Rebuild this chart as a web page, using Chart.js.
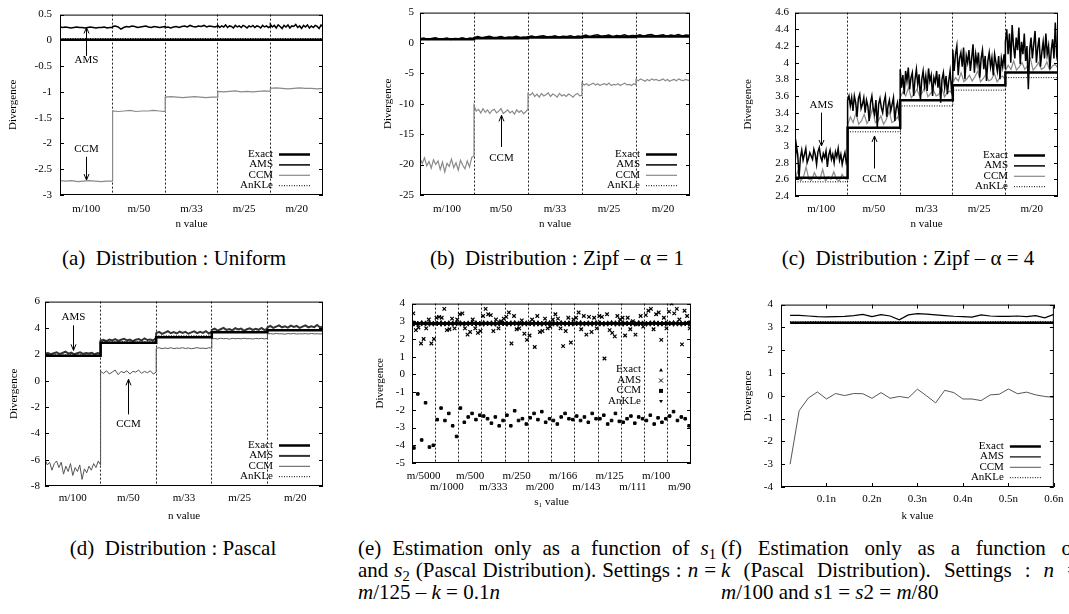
<!DOCTYPE html>
<html>
<head>
<meta charset="utf-8">
<script src="https://cdn.jsdelivr.net/npm/chart.js@4.4.1/dist/chart.umd.min.js"></script>
<style>
  html, body { margin: 0; padding: 0; background: #fff; width: 1069px; height: 614px; overflow: hidden; position: relative; }
  canvas { position: absolute; }
  .cap { position: absolute; font-family: 'Liberation Serif', 'Times New Roman', serif; font-size: 21px; line-height: 22px; color: #000; }
  .cap.c { text-align: center; white-space: nowrap; }
  .line { text-align: justify; text-align-last: justify; height: 22px; white-space: normal; }
  .line.last { text-align-last: left; }
  sub { font-size: 70%; line-height: 0; vertical-align: -0.3em; }
</style>
</head>
<body>

<div class="cap c" style="left:0px; top:247px; width:348px;">(a)&nbsp; Distribution : Uniform</div>
<div class="cap c" style="left:400px; top:247px; width:314px;">(b)&nbsp; Distribution : Zipf – α = 1</div>
<div class="cap c" style="left:760px; top:247px; width:296px;">(c)&nbsp; Distribution : Zipf – α = 4</div>
<div class="cap c" style="left:0px; top:537px; width:346px;">(d)&nbsp; Distribution : Pascal</div>
<div class="cap" style="left:358px; top:537px; width:358px;">
  <div class="line">(e) Estimation only as a function of <i>s</i><sub>1</sub></div>
  <div class="line">and <i>s</i><sub>2</sub> (Pascal Distribution). Settings : <i>n</i> =</div>
  <div class="line last"><i>m</i>/125 – <i>k</i> = 0.1<i>n</i></div>
</div>
<div class="cap" style="left:721px; top:537px; width:358px;">
  <div class="line">(f) Estimation only as a function of</div>
  <div class="line"><i>k</i> (Pascal Distribution). Settings : <i>n</i> =</div>
  <div class="line last"><i>m</i>/100 and <i>s</i>1 = <i>s</i>2 = <i>m</i>/80</div>
</div>

<script>
// ---------- data ----------
const seriesNames = ['Exact', 'AMS', 'CCM', 'AnKLe'];
const nLabels = ['m/100', 'm/50', 'm/33', 'm/25', 'm/20'];
const s1Labels = ['m/5000', 'm/1000', 'm/500', 'm/333', 'm/250', 'm/200', 'm/166', 'm/143', 'm/125', 'm/111', 'm/100', 'm/90'];
const kTicks = [0.1, 0.2, 0.3, 0.4, 0.5, 0.6];

// (a) uniform, one list per n segment
const uniExact = [[0.01, 0.01], [0.01, 0.01], [0.01, 0.01], [0.01, 0.01], [0.01, 0.01]];
const uniAms = [
  [0.26, 0.25, 0.26, 0.25, 0.24, 0.25, 0.26, 0.25, 0.25, 0.24, 0.25, 0.26, 0.25, 0.24, 0.25, 0.25, 0.26, 0.24, 0.25, 0.25],
  [0.27, 0.28, 0.26, 0.22, 0.25, 0.27, 0.26, 0.28, 0.27, 0.25, 0.26, 0.27, 0.28, 0.26, 0.25, 0.27, 0.26, 0.25, 0.26, 0.27],
  [0.25, 0.26, 0.24, 0.26, 0.27, 0.25, 0.27, 0.28, 0.26, 0.29, 0.27, 0.26, 0.28, 0.27, 0.29, 0.26, 0.28, 0.27, 0.26, 0.28],
  [0.29, 0.25, 0.28, 0.26, 0.30, 0.25, 0.28, 0.27, 0.24, 0.29, 0.26, 0.28, 0.25, 0.29, 0.27, 0.24, 0.28, 0.26, 0.29, 0.25, 0.28, 0.27, 0.24, 0.29, 0.26, 0.28, 0.25, 0.27],
  [0.31, 0.26, 0.29, 0.24, 0.30, 0.27, 0.23, 0.29, 0.26, 0.30, 0.24, 0.28, 0.27, 0.31, 0.25, 0.28, 0.23, 0.29, 0.26, 0.30, 0.24, 0.28, 0.25, 0.29, 0.27, 0.23, 0.30, 0.26]
];
const uniCcm = [
  [-2.72, -2.73, -2.72, -2.74, -2.73, -2.72, -2.73, -2.74, -2.73, -2.73],
  [-1.37, -1.38, -1.37, -1.36, -1.38, -1.37, -1.37, -1.36, -1.37, -1.38],
  [-1.10, -1.09, -1.10, -1.11, -1.10, -1.09, -1.10, -1.11, -1.10, -1.10],
  [-0.99, -1.00, -0.99, -0.98, -1.00, -0.99, -1.00, -0.99, -0.98, -0.99],
  [-0.93, -0.92, -0.93, -0.94, -0.93, -0.92, -0.93, -0.93, -0.94, -0.93]
];
const uniAnkle = [[0.035, 0.035], [0.035, 0.035], [0.035, 0.035], [0.035, 0.035], [0.035, 0.035]];

// (b) zipf alpha = 1
const zipf1Exact = [[0.6, 0.6], [0.8, 0.8], [0.9, 0.9], [1.0, 1.0], [1.05, 1.05]];
const zipf1Ams = [
  [0.7, 0.8, 0.6, 0.75, 0.85, 0.65, 0.7, 0.8, 0.6, 0.75, 0.7, 0.85, 0.65, 0.8, 0.7],
  [0.9, 1.05, 0.85, 1.0, 1.1, 0.9, 0.95, 1.05, 0.85, 1.0, 0.95, 1.1, 0.9, 1.0, 0.95],
  [1.0, 1.15, 0.95, 1.1, 1.2, 1.0, 1.05, 1.2, 0.95, 1.1, 1.05, 1.2, 1.0, 1.15, 1.05],
  [1.1, 1.3, 1.05, 1.25, 1.35, 1.1, 1.2, 1.3, 1.05, 1.25, 1.15, 1.35, 1.1, 1.25, 1.2],
  [1.15, 1.35, 1.1, 1.3, 1.4, 1.15, 1.25, 1.35, 1.1, 1.3, 1.2, 1.4, 1.15, 1.3, 1.25]
];
const zipf1Ccm = [
  [-19.0, -19.8, -18.9, -20.2, -19.5, -20.6, -19.2, -20.0, -19.4, -20.8, -19.6, -21.2, -19.8, -20.3, -19.1, -20.5, -19.7, -20.9, -19.3, -20.1, -20.7, -19.4, -20.4, -18.8, -18.6],
  [-10.3, -11.2, -10.9, -11.5, -10.8, -11.4, -11.0, -11.6, -11.1, -10.9, -11.5, -11.2, -10.8, -11.6, -11.3, -11.0, -11.5, -11.2, -11.7, -11.0, -11.4, -11.1, -11.6, -11.3, -10.9],
  [-8.3, -8.6, -8.2, -8.8, -8.4, -8.9, -8.3, -8.7, -8.5, -8.2, -8.8, -8.4, -8.6, -8.9, -8.3, -8.7, -8.5, -8.8, -8.4, -8.6, -8.9, -8.5, -8.3, -8.7, -8.6],
  [-6.6, -6.9, -6.7, -7.0, -6.8, -6.6, -6.9, -6.7, -7.0, -6.8, -6.7, -6.9, -6.6, -7.0, -6.8, -6.9, -6.7, -7.0, -6.8, -6.6, -6.9, -6.8, -7.0, -6.7, -6.9],
  [-6.0, -6.2, -5.9, -6.1, -6.3, -6.0, -6.2, -5.9, -6.1, -6.0, -6.2, -6.1, -5.9, -6.2, -6.0, -6.3, -6.1, -6.0, -6.2, -5.9, -6.1, -6.2, -6.0, -6.1, -6.2]
];
const zipf1Ankle = [[0.7, 0.7], [0.9, 0.9], [1.0, 1.0], [1.1, 1.1], [1.15, 1.15]];

// (c) zipf alpha = 4
const zipf4Exact = [[2.62, 2.62], [3.22, 3.22], [3.55, 3.55], [3.73, 3.73], [3.88, 3.88]];
const zipf4Ams = [
  [2.78, 3.01, 2.9, 2.62, 2.86, 2.95, 2.83, 2.9, 2.97, 2.8, 2.85, 2.92, 2.88, 2.84, 2.96, 2.9, 2.78, 2.93, 2.98, 2.87,
   2.82, 2.91, 2.86, 2.94, 2.75, 2.89, 2.95, 2.84, 2.9, 2.8, 2.93, 2.87, 2.97, 2.83, 2.9, 2.78, 2.86, 2.92, 2.8, 2.85],
  [3.55, 3.6, 3.48, 3.58, 3.42, 3.6, 3.52, 3.35, 3.57, 3.62, 3.45, 3.5, 3.58, 3.4, 3.55, 3.48, 3.3, 3.52, 3.6, 3.45,
   3.38, 3.55, 3.22, 3.5, 3.57, 3.46, 3.4, 3.53, 3.6, 3.35, 3.48, 3.55, 3.42, 3.5, 3.58, 3.3, 3.45, 3.52, 3.38, 3.48],
  [3.92, 3.7, 3.85, 3.62, 3.9, 3.78, 3.94, 3.68, 3.82, 3.88, 3.6, 3.8, 3.92, 3.74, 3.86, 3.55, 3.8, 3.9, 3.72, 3.84,
   3.66, 3.93, 3.78, 3.85, 3.6, 3.82, 3.76, 3.9, 3.7, 3.86, 3.52, 3.8, 3.88, 3.7, 3.84, 3.62, 3.78, 3.9, 3.68, 3.8],
  [4.15, 3.9, 4.1, 4.2, 3.85, 4.05, 4.12, 3.95, 4.18, 3.8, 4.08, 4.0, 4.15, 3.9, 4.05, 4.22, 3.88, 4.1, 3.98, 4.12,
   3.82, 4.05, 4.15, 3.92, 4.08, 3.78, 4.02, 4.12, 3.95, 4.06, 3.85, 4.1, 4.0, 3.9, 4.08, 3.8, 4.05, 3.95, 4.1, 3.92],
  [4.25, 4.4, 4.1, 4.35, 4.0, 4.45, 4.2, 4.05, 4.3, 4.15, 4.42, 3.98, 4.25, 4.1, 4.35, 4.02, 4.2, 3.68, 4.15, 4.3,
   4.05, 4.22, 4.38, 4.0, 4.18, 4.3, 3.95, 4.12, 4.25, 4.05, 4.35, 4.1, 4.2, 3.92, 4.15, 4.28, 4.05, 4.48, 4.1, 4.2]
];
const zipf4Ccm = [
  [2.6, 2.7, 2.58, 2.62, 2.75, 2.6, 2.59, 2.68, 2.61, 2.6, 2.72, 2.58, 2.63, 2.6, 2.69, 2.6, 2.58, 2.66, 2.61, 2.6],
  [3.25, 3.35, 3.28, 3.4, 3.26, 3.3, 3.38, 3.27, 3.33, 3.45, 3.28, 3.3, 3.36, 3.26, 3.32, 3.42, 3.28, 3.3, 3.35, 3.27],
  [3.58, 3.65, 3.6, 3.7, 3.58, 3.62, 3.68, 3.6, 3.64, 3.72, 3.59, 3.63, 3.67, 3.6, 3.62, 3.7, 3.59, 3.64, 3.66, 3.61],
  [3.76, 3.82, 3.78, 3.88, 3.77, 3.8, 3.85, 3.78, 3.83, 3.9, 3.77, 3.81, 3.86, 3.78, 3.8, 3.87, 3.77, 3.82, 3.84, 3.79],
  [3.9, 3.97, 3.92, 4.02, 3.91, 3.95, 4.0, 3.92, 3.96, 4.05, 3.91, 3.95, 4.0, 3.92, 3.94, 4.01, 3.91, 3.96, 3.98, 3.93]
];
const zipf4Ankle = [[2.57, 2.57], [3.17, 3.17], [3.48, 3.48], [3.67, 3.67], [3.82, 3.82]];

// (d) pascal
const pascalExact = [[1.88, 1.88], [2.87, 2.87], [3.3, 3.3], [3.67, 3.67], [3.82, 3.82]];
const pascalAms = [
  [2.05, 2.1, 2.0, 2.08, 2.15, 2.02, 2.1, 2.2, 2.05, 2.12, 2.0, 2.08, 2.15, 2.03, 2.1, 2.06, 2.12, 2.0, 2.09, 2.05],
  [3.05, 3.1, 3.0, 3.12, 3.05, 3.15, 3.02, 3.1, 3.18, 3.05, 3.12, 3.0, 3.1, 3.15, 3.05, 3.2, 3.08, 3.12, 3.05, 3.25],
  [3.6, 3.7, 3.55, 3.65, 3.75, 3.6, 3.68, 3.58, 3.72, 3.62, 3.7, 3.56, 3.66, 3.74, 3.6, 3.7, 3.62, 3.75, 3.58, 3.7],
  [3.85, 3.95, 3.8, 3.9, 4.0, 3.85, 3.92, 3.82, 3.98, 3.88, 3.95, 3.8, 3.9, 3.97, 3.85, 3.93, 3.86, 4.0, 3.84, 3.92],
  [4.05, 4.15, 4.0, 4.1, 4.2, 4.05, 4.12, 4.02, 4.18, 4.08, 4.15, 4.0, 4.1, 4.2, 4.05, 4.13, 4.06, 4.22, 4.04, 4.12]
];
const pascalCcm = [
  [-6.0, -6.4, -6.2, -6.8, -6.3, -6.1, -6.6, -6.2, -7.1, -6.5, -6.9, -6.3, -7.2, -6.6, -6.9, -6.4, -7.5, -6.7, -7.0, -6.5, -6.8, -6.3, -6.6, -6.1, -6.4],
  [0.7, 0.55, 0.75, 0.5, 0.65, 0.8, 0.45, 0.7, 0.6, 0.75, 0.5, 0.7, 0.65, 0.8, 0.55, 0.7, 0.6, 0.75, 0.5, 0.65],
  [2.45, 2.5, 2.42, 2.48, 2.44, 2.5, 2.43, 2.47, 2.45, 2.5, 2.44, 2.48, 2.42, 2.46, 2.5, 2.45, 2.47, 2.43, 2.5, 2.46],
  [3.18, 3.2, 3.16, 3.22, 3.18, 3.2, 3.15, 3.21, 3.18, 3.2, 3.17, 3.22, 3.18, 3.19, 3.16, 3.2, 3.18, 3.21, 3.17, 3.2],
  [3.55, 3.57, 3.54, 3.58, 3.55, 3.56, 3.53, 3.57, 3.55, 3.58, 3.54, 3.56, 3.55, 3.57, 3.54, 3.58, 3.55, 3.56, 3.54, 3.57]
];
const pascalAnkle = [[1.95, 1.95], [2.95, 2.95], [3.4, 3.4], [3.75, 3.75], [3.88, 3.88]];

// (e) as a function of s1: runs spread over the 12 s1 segments
const s1Exact = [
  2.90, 2.88, 2.91, 2.89, 2.90, 2.88, 2.89, 2.91, 2.88, 2.90, 2.89, 2.91,
  2.90, 2.88, 2.89, 2.91, 2.90, 2.88, 2.91, 2.89, 2.90, 2.88, 2.91, 2.89,
  2.88, 2.90, 2.91, 2.89, 2.88, 2.90, 2.89, 2.91, 2.90, 2.88, 2.89, 2.91,
  2.90, 2.88, 2.91, 2.89, 2.90, 2.88, 2.89, 2.91, 2.88, 2.90, 2.89, 2.91,
  2.90, 2.88, 2.89, 2.91, 2.90, 2.88, 2.91, 2.89, 2.90, 2.88, 2.91, 2.89,
  2.88, 2.90, 2.91, 2.89, 2.88, 2.90, 2.89, 2.91, 2.90, 2.88, 2.89, 2.91
];
const s1Ams = [
  3.45, 2.5, 2.65, 1.75, 2.0, 2.6, 3.1, 1.75, 2.0,
  3.2, 3.25, 3.2, 3.7, 2.5, 2.55, 3.15, 2.6, 3.1,
  3.4, 3.45, 2.6, 2.25, 2.4, 3.1, 2.6, 2.35, 2.45,
  3.3, 3.7, 3.4, 3.35, 2.45, 3.1, 2.6, 3.0, 3.15,
  3.25, 3.5, 1.75, 3.3, 2.55, 2.6, 3.05, 2.3, 1.95,
  2.2, 3.1, 1.55, 3.3, 2.4, 2.45, 3.15, 2.6, 2.7,
  3.1, 3.4, 3.15, 2.6, 1.6, 2.45, 3.2, 1.8, 3.1,
  3.2, 3.5, 2.55, 3.3, 2.25, 3.25, 2.4, 3.2, 2.6,
  3.3, 3.25, 0.9, 3.4, 2.5, 2.35, 2.15, 3.3, 3.1,
  3.2, 2.2, 3.2, 2.55, 3.0, 2.25, 2.85, 3.3, 2.7,
  3.35, 3.6, 3.7, 2.55, 3.4, 3.5, 1.95, 3.2, 2.6,
  3.55, 4.0, 3.45, 3.7, 3.1, 1.7, 3.6, 3.3, 2.6
];
const s1Ccm = [
  -4.15, -1.1, -3.7, -1.6, -4.1, -4.0, -2.55, -1.9, -2.6, -2.2, -2.9, -3.5,
  -1.9, -2.7, -2.4, -2.2, -2.55, -2.3, -2.35, -2.5, -2.75, -2.4, -2.9, -2.6,
  -2.3, -2.9, -2.05, -2.6, -2.5, -2.8, -2.45, -2.2, -2.55, -2.1, -2.7, -2.5,
  -2.6, -2.8, -2.4, -2.2, -2.5, -2.55, -2.35, -2.6, -2.4, -2.7, -2.2, -2.5,
  -2.5, -2.3, -2.8, -2.6, -2.2, -2.65, -2.7, -2.5, -2.35, -2.75, -2.4, -2.5,
  -2.6, -2.3, -2.8, -2.45, -2.7, -2.5, -2.35, -2.1, -2.6, -2.4, -2.5, -2.9
];
const s1Ankle = [
  2.86, 2.85, 2.87, 2.86, 2.85, 2.86, 2.87, 2.85, 2.86, 2.86, 2.85, 2.87,
  2.86, 2.85, 2.86, 2.87, 2.85, 2.86, 2.85, 2.87, 2.86, 2.85, 2.86, 2.87,
  2.85, 2.86, 2.87, 2.85, 2.86, 2.86, 2.87, 2.85, 2.86, 2.85, 2.87, 2.86,
  2.86, 2.85, 2.87, 2.86, 2.85, 2.86, 2.87, 2.85, 2.86, 2.86, 2.85, 2.87,
  2.86, 2.85, 2.86, 2.87, 2.85, 2.86, 2.85, 2.87, 2.86, 2.85, 2.86, 2.87,
  2.85, 2.86, 2.87, 2.85, 2.86, 2.86, 2.87, 2.85, 2.86, 2.85, 2.87, 2.86
];

// (f) as a function of k
const kValues = [0.02, 0.04, 0.06, 0.08, 0.10, 0.12, 0.14, 0.16, 0.18, 0.20, 0.22, 0.24, 0.26, 0.28, 0.30,
                 0.32, 0.34, 0.36, 0.38, 0.40, 0.42, 0.44, 0.46, 0.48, 0.50, 0.52, 0.54, 0.56, 0.58, 0.60];
const kExact = [3.2, 3.2, 3.2, 3.2, 3.2, 3.2, 3.2, 3.2, 3.2, 3.2, 3.2, 3.2, 3.2, 3.2, 3.2,
                3.2, 3.2, 3.2, 3.2, 3.2, 3.2, 3.2, 3.2, 3.2, 3.2, 3.2, 3.2, 3.2, 3.2, 3.2];
const kAms = [3.53, 3.53, 3.5, 3.47, 3.46, 3.47, 3.48, 3.52, 3.57, 3.47, 3.56, 3.5, 3.33, 3.55, 3.6,
              3.58, 3.55, 3.52, 3.49, 3.47, 3.45, 3.55, 3.5, 3.48, 3.48, 3.5, 3.47, 3.52, 3.42, 3.57];
const kCcm = [-3.0, -0.65, -0.1, 0.17, -0.14, 0.1, 0.01, 0.1, 0.09, -0.11, 0.14, -0.11, -0.03, -0.09, 0.29,
              0.0, -0.31, 0.24, 0.14, -0.14, -0.14, -0.21, 0.04, 0.07, 0.3, 0.09, 0.16, 0.04, -0.03, -0.07];
const kAnkle = [3.25, 3.24, 3.25, 3.26, 3.25, 3.25, 3.24, 3.25, 3.26, 3.25, 3.24, 3.25, 3.25, 3.26, 3.25,
                3.24, 3.25, 3.25, 3.26, 3.25, 3.24, 3.25, 3.25, 3.26, 3.25, 3.24, 3.25, 3.26, 3.25, 3.25];

// ---------- helpers ----------
Chart.defaults.font.family = "'Liberation Serif', 'Times New Roman', serif";
Chart.defaults.color = '#000';
const FONT = "11px 'Liberation Serif', 'Times New Roman', serif";

// each segment's values run across [i, i+1] of the x axis
function steps(segs) {
  const pts = [];
  segs.forEach((seg, i) => seg.forEach((v, j) => pts.push({ x: i + j / (seg.length - 1), y: v })));
  return pts;
}
function spread(vals, span) {
  return vals.map((v, j) => ({ x: (j + 0.5) * span / vals.length, y: v }));
}
function pairs(xs, ys) {
  return xs.map((x, i) => ({ x: x, y: ys[i] }));
}

function drawMarker(ctx, style, rot, x, y, r) {
  ctx.beginPath();
  if (style === 'triangle') {
    const d = rot ? -1 : 1;
    ctx.moveTo(x, y - d * r); ctx.lineTo(x + r, y + d * r * 0.7); ctx.lineTo(x - r, y + d * r * 0.7);
    ctx.closePath(); ctx.fill();
  } else if (style === 'crossRot') {
    ctx.moveTo(x - r, y - r); ctx.lineTo(x + r, y + r); ctx.moveTo(x + r, y - r); ctx.lineTo(x - r, y + r);
    ctx.stroke();
  } else {
    ctx.fillRect(x - r, y - r, 2 * r, 2 * r);
  }
}

// box, inward ticks, arrows and the legend in the plot corner
const framePlugin = {
  id: 'frame',
  afterDraw(chart, args, opts) {
    const { ctx, chartArea: a, scales } = chart;
    ctx.save();
    ctx.strokeStyle = '#000'; ctx.fillStyle = '#000'; ctx.lineWidth = 1; ctx.setLineDash([]);
    ctx.strokeRect(a.left + 0.5, a.top + 0.5, a.right - a.left - 1, a.bottom - a.top - 1);
    ctx.beginPath();
    scales.y.ticks.forEach(t => {
      const py = Math.round(scales.y.getPixelForValue(t.value)) + 0.5;
      ctx.moveTo(a.left, py); ctx.lineTo(a.left + 4, py);
      ctx.moveTo(a.right, py); ctx.lineTo(a.right - 4, py);
    });
    if (opts.xTicks) {
      scales.x.ticks.forEach(t => {
        const px = Math.round(scales.x.getPixelForValue(t.value)) + 0.5;
        ctx.moveTo(px, a.bottom); ctx.lineTo(px, a.bottom - 4);
        ctx.moveTo(px, a.top); ctx.lineTo(px, a.top + 4);
      });
    }
    ctx.stroke();

    ctx.font = FONT;
    (opts.notes || []).forEach(n => {
      const px = Math.round(scales.x.getPixelForValue(n.x)) + 0.5;
      const p0 = scales.y.getPixelForValue(n.from), p1 = scales.y.getPixelForValue(n.to);
      const d = Math.sign(p1 - p0);
      ctx.textAlign = 'center'; ctx.textBaseline = 'middle';
      ctx.fillText(n.text, px, scales.y.getPixelForValue(n.ty));
      ctx.beginPath();
      ctx.moveTo(px, p0); ctx.lineTo(px, p1);
      ctx.moveTo(px - 2.5, p1 - d * 6); ctx.lineTo(px, p1); ctx.lineTo(px + 2.5, p1 - d * 6);
      ctx.stroke();
    });

    const lg = opts.legend;
    if (lg) {
      const tx = a.right - 50;
      const y0 = lg.fromBottom !== undefined ? a.bottom - lg.fromBottom : a.top + lg.fromTop;
      chart.data.datasets.forEach((ds, i) => {
        const y = y0 + i * 10.4;
        ctx.setLineDash([]);
        ctx.fillStyle = '#000';
        ctx.textAlign = 'right'; ctx.textBaseline = 'middle';
        ctx.fillText(ds.label, tx, y);
        ctx.strokeStyle = ds.borderColor; ctx.fillStyle = ds.borderColor;
        if (ds.pointStyle) {
          ctx.lineWidth = 1;
          drawMarker(ctx, ds.pointStyle, ds.pointRotation, tx + 20, y + 0.5, 2);
        } else {
          ctx.lineWidth = ds.borderWidth;
          ctx.setLineDash(ds.borderDash || []);
          ctx.beginPath(); ctx.moveTo(tx + 6, y + 0.5); ctx.lineTo(tx + 37, y + 0.5); ctx.stroke();
        }
      });
    }
    ctx.restore();
  }
};
Chart.register(framePlugin);

function segAxis(count, labelFn, title, geo, lineH) {
  return {
    type: 'linear', min: 0, max: count,
    afterBuildTicks: s => { s.ticks = []; for (let i = 0; i <= 2 * count; i++) s.ticks.push({ value: i / 2 }); },
    ticks: {
      autoSkip: false, maxRotation: 0, minRotation: 0, padding: geo.xTickPad,
      font: { size: 11, lineHeight: lineH },
      callback: v => Number.isInteger(v) ? '' : labelFn(Math.floor(v))
    },
    grid: {
      drawTicks: false, lineWidth: 1,
      color: c => {
        const v = c.tick ? c.tick.value : -1;
        return (Number.isInteger(v) && v > 0 && v < count) ? '#222' : 'rgba(0,0,0,0)';
      }
    },
    border: { display: false, dash: [2, 2] },
    title: { display: true, text: title, font: { size: 11 }, padding: { top: 0, bottom: 0 } }
  };
}

function valAxis(min, max, step, geo) {
  return {
    type: 'linear', min: min, max: max,
    ticks: { stepSize: step, padding: geo.yPad, font: { size: 11 }, callback: v => String(+v.toFixed(2)) },
    grid: { display: false, drawTicks: false },
    border: { display: false },
    title: { display: true, text: 'Divergence', font: { size: 11 }, padding: { top: geo.yTitleX - geo.left - 6.6, bottom: 0 } }
  };
}

function panel(type, geo, datasets, xScale, yScale, frame) {
  const cv = document.createElement('canvas');
  cv.width = geo.width; cv.height = geo.height;
  cv.style.left = geo.left + 'px'; cv.style.top = geo.top + 'px';
  document.body.appendChild(cv);
  const [L, T, R, B] = geo.plot;
  const xH = geo.top + geo.height - B;
  xScale.afterFit = s => { s.height = xH; };
  yScale.afterFit = s => { s.width = L - geo.left; };
  xScale.title.padding.bottom = geo.top + geo.height - geo.xTitleY - 6.6;
  return new Chart(cv, {
    type: type,
    data: { datasets: datasets },
    options: {
      responsive: false, animation: false, devicePixelRatio: 1, events: [],
      layout: { padding: { left: 0, bottom: 0, top: T - geo.top, right: geo.left + geo.width - R } },
      scales: { x: xScale, y: yScale },
      plugins: { legend: { display: false }, tooltip: { enabled: false }, frame: frame }
    }
  });
}

const gnuStyle = [
  { borderColor: '#000', borderWidth: 2.5 },
  { borderColor: '#000', borderWidth: 1.5 },
  { borderColor: '#8a8a8a', borderWidth: 1.2 },
  { borderColor: '#000', borderWidth: 1, borderDash: [1, 1.5] }
];
const pascalStyle = [
  { borderColor: '#000', borderWidth: 2.5 },
  { borderColor: '#333', borderWidth: 2 },
  { borderColor: '#555', borderWidth: 1 },
  { borderColor: '#000', borderWidth: 1, borderDash: [1, 1.5] }
];
const kStyle = [
  { borderColor: '#000', borderWidth: 2.5 },
  { borderColor: '#000', borderWidth: 1.2 },
  { borderColor: '#444', borderWidth: 0.9 },
  { borderColor: '#000', borderWidth: 1, borderDash: [1, 1.5] }
];

function stepSets(all, styles) {
  return all.map((segs, i) => Object.assign({
    label: seriesNames[i], data: steps(segs), pointRadius: 0, tension: 0, fill: false
  }, styles[i]));
}

// ---------- panels ----------
const geoA = { left: 0, top: 0, width: 345, height: 232, plot: [60, 9, 323, 195], yTitleX: 13, yPad: 8, xTickPad: 7.4, xTitleY: 224 };
const geoB = { left: 370, top: 0, width: 340, height: 232, plot: [420, 9, 690, 195], yTitleX: 388, yPad: 6, xTickPad: 7.4, xTitleY: 224 };
const geoC = { left: 730, top: 0, width: 339, height: 232, plot: [795, 9, 1058, 196], yTitleX: 748, yPad: 6, xTickPad: 6.4, xTitleY: 224 };
const geoD = { left: 0, top: 290, width: 345, height: 238, plot: [45, 298, 323, 486], yTitleX: 14, yPad: 5, xTickPad: 6, xTitleY: 516 };
const geoE = { left: 362, top: 290, width: 345, height: 222, plot: [412, 298, 691, 463], yTitleX: 380, yPad: 7, xTickPad: 7.5, xTitleY: 502 };
const geoF = { left: 730, top: 290, width: 339, height: 238, plot: [781, 298, 1058, 487], yTitleX: 748, yPad: 8, xTickPad: 5.5, xTitleY: 516 };

panel('line', geoA, stepSets([uniExact, uniAms, uniCcm, uniAnkle], gnuStyle),
  segAxis(5, i => nLabels[i], 'n value', geoA, 1.2), valAxis(-3, 0.5, 0.5, geoA),
  { legend: { fromBottom: 41 }, notes: [
    { text: 'AMS', x: 0.5, ty: -0.38, from: -0.3, to: 0.25 },
    { text: 'CCM', x: 0.5, ty: -2.1, from: -2.26, to: -2.71 }
  ] });

panel('line', geoB, stepSets([zipf1Exact, zipf1Ams, zipf1Ccm, zipf1Ankle], gnuStyle),
  segAxis(5, i => nLabels[i], 'n value', geoB, 1.2), valAxis(-25, 5, 5, geoB),
  { legend: { fromBottom: 41 }, notes: [
    { text: 'CCM', x: 1.5, ty: -19.0, from: -17.1, to: -11.9 }
  ] });

panel('line', geoC, stepSets([zipf4Exact, zipf4Ams, zipf4Ccm, zipf4Ankle], gnuStyle),
  segAxis(5, i => nLabels[i], 'n value', geoC, 1.2), valAxis(2.4, 4.6, 0.2, geoC),
  { legend: { fromBottom: 41 }, notes: [
    { text: 'AMS', x: 0.5, ty: 3.49, from: 3.4, to: 3.0 },
    { text: 'CCM', x: 1.5, ty: 2.6, from: 2.73, to: 3.12 }
  ] });

panel('line', geoD, stepSets([pascalExact, pascalAms, pascalCcm, pascalAnkle], pascalStyle),
  segAxis(5, i => nLabels[i], 'n value', geoD, 1.2), valAxis(-8, 6, 2, geoD),
  { legend: { fromBottom: 41 }, notes: [
    { text: 'AMS', x: 0.5, ty: 4.81, from: 4.2, to: 2.3 },
    { text: 'CCM', x: 1.5, ty: -3.3, from: -2.56, to: 0.1 }
  ] });

const scatterBase = { showLine: false, borderColor: '#000', backgroundColor: '#000', borderWidth: 1 };
panel('scatter', geoE, [
  Object.assign({ label: 'Exact', data: spread(s1Exact, 12), pointStyle: 'triangle', pointRadius: 2.4 }, scatterBase),
  Object.assign({ label: 'AMS', data: spread(s1Ams, 12), pointStyle: 'crossRot', pointRadius: 2.5, borderWidth: 1.2 }, scatterBase, { borderWidth: 1.2 }),
  Object.assign({ label: 'CCM', data: spread(s1Ccm, 12), pointStyle: 'rect', pointRadius: 1.8 }, scatterBase),
  Object.assign({ label: 'AnKLe', data: spread(s1Ankle, 12), pointStyle: 'triangle', pointRotation: 180, pointRadius: 2.4 }, scatterBase)
],
  segAxis(12, i => (i % 2 ? ['', s1Labels[i]] : [s1Labels[i], '']), 's\u2081 value', geoE, 1.0),
  valAxis(-5, 4, 1, geoE),
  { legend: { fromTop: 66 } });

const kAxis = {
  type: 'linear', min: 0, max: 0.6,
  afterBuildTicks: s => { s.ticks = kTicks.map(v => ({ value: v })); },
  ticks: { autoSkip: false, maxRotation: 0, padding: geoF.xTickPad, font: { size: 11 }, callback: v => (+v.toFixed(1)) + 'n' },
  grid: { display: false, drawTicks: false },
  border: { display: false },
  title: { display: true, text: 'k value', font: { size: 11 }, padding: { top: 0, bottom: 0 } }
};
panel('line', geoF, [kExact, kAms, kCcm, kAnkle].map((ys, i) => Object.assign({
  label: seriesNames[i], data: pairs(kValues, ys), pointRadius: 0, tension: 0, fill: false
}, kStyle[i])), kAxis, valAxis(-4, 4, 1, geoF), { legend: { fromBottom: 41 }, xTicks: true });
</script>
</body>
</html>
